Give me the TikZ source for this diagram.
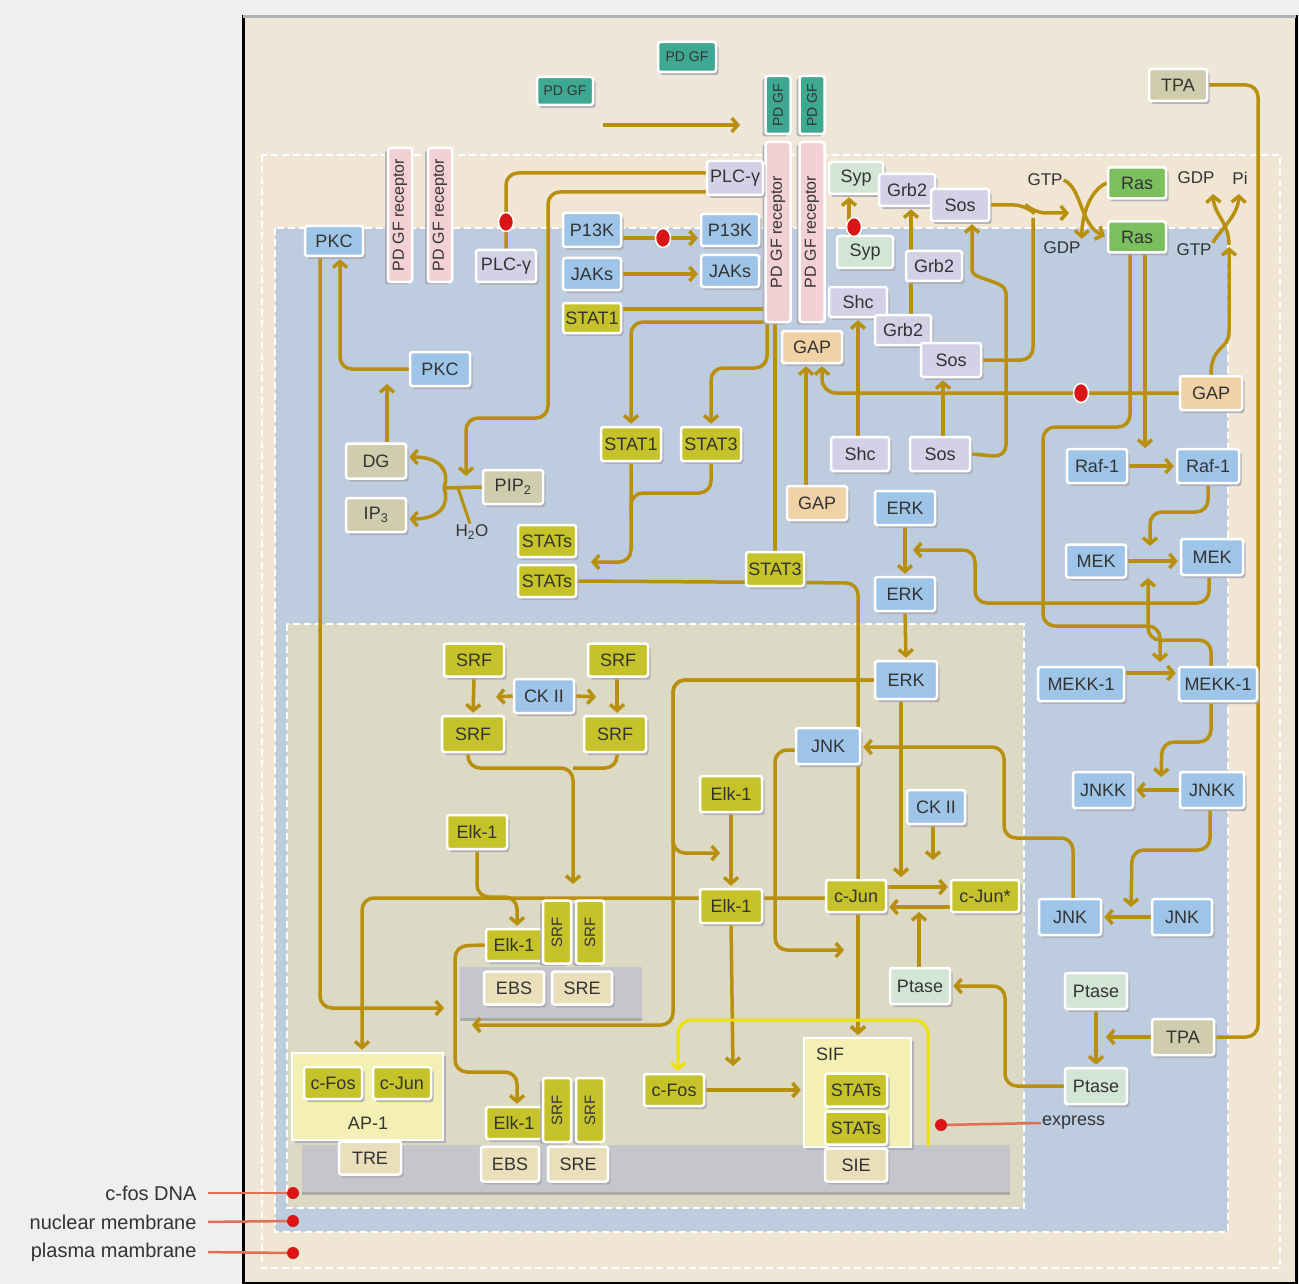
\documentclass[tikz,border=0pt]{standalone}
\usepackage{fontspec}
\setmainfont{Liberation Sans}
\usetikzlibrary{arrows.meta,shadows,shapes.geometric}
\definecolor{pagebg}{HTML}{EFEFEF}
\definecolor{framebg}{HTML}{EDE6D9}
\definecolor{pmbg}{HTML}{F1E5D3}
\definecolor{cytbg}{HTML}{BECCE0}
\definecolor{nucbg}{HTML}{DCD9C5}
\definecolor{cgold}{HTML}{B8900E}
\definecolor{cyellow}{HTML}{EDE200}
\definecolor{txt}{HTML}{333333}
\definecolor{shd}{HTML}{A9A9B2}
\definecolor{cblue}{HTML}{9EC5E8}
\definecolor{clav}{HTML}{D3D1E6}
\definecolor{cyel}{HTML}{C6C32A}
\definecolor{cpeach}{HTML}{F1D1A6}
\definecolor{cpale}{HTML}{D3E6D6}
\definecolor{cras}{HTML}{7CBF5E}
\definecolor{cteal}{HTML}{3FA893}
\definecolor{colive}{HTML}{CFCDAD}
\definecolor{ccream}{HTML}{E9DFBA}
\definecolor{cpink}{HTML}{F3D0D3}
\definecolor{cbar}{HTML}{C5C5CC}
\definecolor{cbox}{HTML}{F4EFB2}
\definecolor{cred}{HTML}{D91515}
\definecolor{cline}{HTML}{E07052}
\newcommand\lbl{\fontsize{18}{20}\selectfont}
\newcommand\smlbl{\fontsize{16}{18}\selectfont}
\newcommand\tnlbl{\fontsize{14}{16}\selectfont}
\newcommand\midlbl{\fontsize{20}{22}\selectfont}
\pgfdeclarelayer{bgl}
\pgfdeclarelayer{contl}
\pgfdeclarelayer{conl}
\pgfsetlayers{bgl,contl,conl,main}
\tikzset{
  bx0/.style={rectangle, draw=white, line width=2.5pt, rounded corners=2.5pt, inner sep=0pt, text=txt, font=\lbl},
  bx/.style={bx0, drop shadow={shadow xshift=2.5pt, shadow yshift=-3pt, fill=shd, opacity=.85}},
  rbx/.style={bx0, rotate=90, font=\smlbl, drop shadow={shadow xshift=-3pt, shadow yshift=-2.5pt, fill=shd, opacity=.85}},
  sz/.style 2 args={minimum width=#1pt, minimum height=#2pt},
  kb/.style={bx, fill=cblue},
  kl/.style={bx, fill=clav},
  ky/.style={bx, fill=cyel},
  kp/.style={bx, fill=cpeach},
  kg/.style={bx, fill=cpale},
  kr/.style={bx, fill=cras},
  ko/.style={bx, fill=colive},
  kc/.style={bx, fill=ccream},
  plain/.style={font=\lbl, text=txt, inner sep=1pt},
  bar/.style={rectangle, fill=cbar, inner sep=0pt, drop shadow={shadow xshift=0pt, shadow yshift=-3pt, fill=cbar!70!black, opacity=.6}},
  cont/.style={rectangle, fill=cbox, draw=white, line width=2.5pt, inner sep=0pt, drop shadow={shadow xshift=2.5pt, shadow yshift=-3pt, fill=shd, opacity=.85}},
  dsh/.style={draw=white, line width=2pt, dash pattern=on 7pt off 4pt},
  con/.style={draw=cgold, line width=3.5pt, rounded corners=12pt},
  arr/.style={con, -{Straight Barb[length=6pt,width=14pt]}, shorten >=2pt},
  yarr/.style={draw=cyellow, line width=3pt, rounded corners=14pt, -{Straight Barb[length=6pt,width=14pt]}, shorten >=2pt},
  rdot/.style={ellipse, fill=cred, draw=white, line width=1.5pt, minimum width=15pt, minimum height=19pt, inner sep=0pt},
  sdot/.style={circle, fill=cred, minimum size=12pt, inner sep=0pt},
  redln/.style={draw=cline, line width=2.5pt}
}
\begin{document}
\begin{tikzpicture}[x=1pt,y=-1pt]
\useasboundingbox (0,0) rectangle (1299,1284);
\begin{pgfonlayer}{bgl}
\fill[pagebg] (0,0) rectangle (1299,1284);
\draw[line width=3pt, draw=black, fill=framebg] (243,17) rectangle (1296,1283);
\draw[line width=3pt, draw=gray!60] (243,17) -- (1296,17);
\draw[dsh, fill=pmbg] (262,155) rectangle (1280,1268);
\draw[dsh, fill=cytbg] (275,228) rectangle (1228,1232);
\draw[dsh, fill=nucbg] (287,624) rectangle (1024,1208);
\end{pgfonlayer}

\begin{pgfonlayer}{contl}
\node[bar, sz={708}{47}] (dna) at (656,1168.5) {};
\node[bar, sz={182}{51}] (c1bar) at (551,992.5) {};
\node[cont, sz={151}{87}] (ap1) at (367.5,1096.5) {};
\node[cont, sz={107}{109}] (sif) at (857.5,1092.5) {};
\end{pgfonlayer}

% ---------- nodes ----------
\node[bx, fill=cteal, font=\tnlbl, sz={58}{30}] (pdgf1) at (687,57) {PD GF};
\node[bx, fill=cteal, font=\tnlbl, sz={56}{28}] (pdgf2) at (565,91) {PD GF};
\node[rbx, fill=cteal, font=\tnlbl, sz={58}{25}] (recT1) at (778,105) {PD GF};
\node[rbx, fill=cteal, font=\tnlbl, sz={58}{25}] (recT2) at (812,105) {PD GF};
\node[rbx, fill=cpink, sz={180}{25}] (recP1) at (778,232) {PD GF receptor};
\node[rbx, fill=cpink, sz={180}{25}] (recP2) at (812,232) {PD GF receptor};
\node[rbx, fill=cpink, sz={134}{24}] (lrec1) at (400,215) {PD GF receptor};
\node[rbx, fill=cpink, sz={134}{24}] (lrec2) at (440,215) {PD GF receptor};
\node[ko, sz={58}{32}] (tpa1) at (1178,85) {TPA};

\node[kb, sz={58}{30}] (pkc1) at (334,241) {PKC};
\node[kl, sz={60}{32}] (plc1) at (506,266) {PLC-γ};
\node[kl, sz={56}{34}] (plc2) at (735,178) {PLC-γ};
\node[kb, sz={58}{34}] (pi1) at (592,230) {P13K};
\node[kb, sz={58}{32}] (pi2) at (730,230) {P13K};
\node[kb, sz={58}{32}] (jak1) at (592,274) {JAKs};
\node[kb, sz={58}{32}] (jak2) at (730,271) {JAKs};
\node[ky, sz={58}{30}] (st1a) at (592,318) {STAT1};
\node[kg, sz={54}{32}] (syp1) at (856,178) {Syp};
\node[kl, sz={56}{32}] (grb2a) at (907,190) {Grb2};
\node[kl, sz={58}{32}] (sos1) at (960,205) {Sos};
\node[kg, sz={56}{32}] (syp2) at (865,252) {Syp};
\node[kl, sz={56}{30}] (grb2b) at (934,266) {Grb2};
\node[kl, sz={58}{30}] (shc1) at (858,302) {Shc};
\node[kl, sz={56}{30}] (grb2c) at (903,330) {Grb2};
\node[kl, sz={60}{34}] (sos2) at (951,360) {Sos};
\node[kp, sz={60}{32}] (gap1) at (812,347) {GAP};
\node[plain, font=\fontsize{17}{19}\selectfont] (gtp1) at (1045,180) {GTP};
\node[plain, font=\fontsize{17}{19}\selectfont] (gdp1) at (1062,248) {GDP};
\node[kr, sz={58}{31}] (ras1) at (1137,183) {Ras};
\node[kr, sz={58}{31}] (ras2) at (1137,237) {Ras};
\node[plain, font=\fontsize{17}{19}\selectfont] (gdp2) at (1196,178) {GDP};
\node[plain, font=\fontsize{17}{19}\selectfont] (pi) at (1240,178) {Pi};
\node[plain, font=\fontsize{17}{19}\selectfont] (gtp2) at (1194,250) {GTP};
\node[kp, sz={62}{34}] (gap2) at (1211,393) {GAP};

\node[kb, sz={60}{34}] (pkc2) at (440,369) {PKC};
\node[ko, sz={60}{35}] (dg) at (376,461) {DG};
\node[ko, sz={60}{34}] (ip3) at (376,515) {IP\textsubscript{3}};
\node[ko, sz={60}{34}] (pip2) at (513,487) {PIP\textsubscript{2}};
\node[plain, font=\fontsize{17}{19}\selectfont] (h2o) at (472,532) {H\textsubscript{2}O};
\node[ky, sz={60}{34}] (st1b) at (631,444) {STAT1};
\node[ky, sz={60}{34}] (st3a) at (711,444) {STAT3};
\node[ky, sz={58}{32}] (stsA) at (547,541) {STATs};
\node[ky, sz={58}{32}] (stsB) at (547,581) {STATs};
\node[kl, sz={58}{34}] (shc2) at (860,454) {Shc};
\node[kl, sz={60}{34}] (sos3) at (940,454) {Sos};
\node[kp, sz={60}{34}] (gap3) at (817,503) {GAP};
\node[ky, sz={58}{34}] (st3b) at (775,569) {STAT3};
\node[kb, sz={60}{34}] (erk1) at (905,508) {ERK};
\node[kb, sz={60}{34}] (erk2) at (905,594) {ERK};
\node[kb, sz={60}{34}] (raf1a) at (1097,466) {Raf-1};
\node[kb, sz={62}{34}] (raf1b) at (1208,466) {Raf-1};
\node[kb, sz={60}{33}] (meka) at (1096,561) {MEK};
\node[kb, sz={62}{36}] (mekb) at (1212,557) {MEK};

\node[ky, sz={60}{33}] (srf1) at (474,660) {SRF};
\node[ky, sz={60}{33}] (srf2) at (618,660) {SRF};
\node[kb, sz={60}{34}] (ck1) at (544,696) {CK II};
\node[ky, sz={62}{36}] (srf3) at (473,734) {SRF};
\node[ky, sz={62}{36}] (srf4) at (615,734) {SRF};
\node[ky, sz={60}{34}] (elk1a) at (477,832) {Elk-1};
\node[kb, sz={62}{38}] (erk3) at (906,680) {ERK};
\node[kb, sz={86}{34}] (mekk1a) at (1081,684) {MEKK-1};
\node[kb, sz={78}{34}] (mekk1b) at (1218,684) {MEKK-1};
\node[kb, sz={64}{36}] (jnk1) at (828,746) {JNK};
\node[ky, sz={62}{36}] (elk1b) at (731,794) {Elk-1};
\node[kb, sz={58}{34}] (ck2) at (936,807) {CK II};
\node[kb, sz={60}{36}] (jnkk1) at (1103,790) {JNKK};
\node[kb, sz={64}{36}] (jnkk2) at (1212,790) {JNKK};
\node[ky, sz={60}{32}] (cjun1) at (856,896) {c-Jun};
\node[ky, sz={68}{32}] (cjuns) at (985,896) {c-Jun*};
\node[ky, sz={62}{34}] (elk1c) at (731,906) {Elk-1};
\node[kb, sz={62}{36}] (jnk2) at (1070,917) {JNK};
\node[kb, sz={60}{36}] (jnk3) at (1182,917) {JNK};
\node[kg, sz={60}{36}] (ptase1) at (920,986) {Ptase};
\node[kg, sz={62}{36}] (ptase2) at (1096,991) {Ptase};
\node[ko, sz={62}{36}] (tpa2) at (1183,1037) {TPA};
\node[kg, sz={62}{36}] (ptase3) at (1096,1086) {Ptase};
\node[plain, anchor=west] (express) at (1041,1123) {express};
\node[sdot] (exdot) at (941,1125) {};

\node[plain] (siftxt) at (830,1054) {SIF};
\node[ky, sz={62}{33}] (sts1) at (856,1090) {STATs};
\node[ky, sz={62}{33}] (sts2) at (856,1128) {STATs};
\node[kc, sz={62}{33}] (sie) at (856,1165) {SIE};

\node[ky, sz={56}{32}] (elk1d) at (514,945) {Elk-1};
\node[rbx, fill=cyel, font=\fontsize{15}{17}\selectfont, sz={63}{28}] (srfv1) at (557,932) {SRF};
\node[rbx, fill=cyel, font=\fontsize{15}{17}\selectfont, sz={63}{28}] (srfv2) at (590,932) {SRF};
\node[kc, sz={60}{33}] (ebs1) at (514,988) {EBS};
\node[kc, sz={60}{33}] (sre1) at (582,988) {SRE};

\node[ky, sz={58}{32}] (cfos1) at (333,1083) {c-Fos};
\node[ky, sz={58}{32}] (cjun2) at (402,1083) {c-Jun};
\node[plain] (ap1txt) at (368,1123) {AP-1};
\node[kc, sz={62}{33}] (tre) at (370,1158) {TRE};
\node[ky, sz={56}{32}] (elk1e) at (514,1123) {Elk-1};
\node[rbx, fill=cyel, font=\fontsize{15}{17}\selectfont, sz={64}{28}] (srfv3) at (557,1110) {SRF};
\node[rbx, fill=cyel, font=\fontsize{15}{17}\selectfont, sz={64}{28}] (srfv4) at (590,1110) {SRF};
\node[kc, sz={58}{35}] (ebs2) at (510,1164) {EBS};
\node[kc, sz={60}{35}] (sre2) at (578,1164) {SRE};
\node[ky, sz={60}{32}] (cfos2) at (674,1090) {c-Fos};

% red dots
\node[rdot] (rd1) at (506,222) {};
\node[rdot] (rd2) at (663,238) {};
\node[rdot] (rd3) at (854,227) {};
\node[rdot] (rd4) at (1081,393) {};

% left labels
\node[anchor=east, font=\midlbl, text=txt] (lab1) at (200,1193) {c-fos DNA};
\node[anchor=east, font=\midlbl, text=txt] (lab2) at (200,1222) {nuclear membrane};
\node[anchor=east, font=\midlbl, text=txt] (lab3) at (200,1252) {plasma mambrane};
\node[sdot] (ld1) at (293,1193) {};
\node[sdot] (ld2) at (293,1221) {};
\node[sdot] (ld3) at (293,1253) {};

% free ends
\coordinate (gfs) at (603,125);
\coordinate (gfe) at (742,125);
\coordinate (pipx) at (466,478);
\coordinate (stsin) at (589,562);
\coordinate (pkcend) at (446,1008);
\coordinate (dgend) at (387,382);
\coordinate (pjx) at (444,488);
\coordinate (rasin) at (1071,213);
\coordinate (gapup) at (1229,245);
\coordinate (gdpin) at (1213,192);
\coordinate (piin) at (1239,192);
\coordinate (mekkin) at (1160,664);
\coordinate (rafin) at (1145,450);
\coordinate (mekin) at (1150,548);
\coordinate (mekin2) at (1148,576);
\coordinate (erkin) at (911,550);
\coordinate (jnkkin) at (1161,779);
\coordinate (jnkin) at (1131,909);
\coordinate (jnkout) at (846,950);
\coordinate (elkin) at (722,853);
\coordinate (c1in) at (470,1025);
\coordinate (cjin) at (901,879);
\coordinate (ck2out) at (933,862);
\coordinate (ptin) at (919,910);
\coordinate (tpain) at (1104,1037);
\coordinate (elkout) at (733,1068);
\coordinate (srfout) at (573,886);
\coordinate (ckl) at (494,697);
\coordinate (ckr) at (598,697);
\coordinate (yst) at (928,1146);

% ---------- connectors ----------
\begin{pgfonlayer}{conl}
\draw[arr] (gfs) -- (gfe);
\draw[con] (plc2.west |- 0,173) -- (506,173) -- (rd1.center) -- (plc1.north);
\draw[arr] (plc2.west |- 0,192) -- (548,192) -- (548,418) -- (466,418) -- (pipx);
\draw[arr] (pi1.east |- 0,238) -- (pi2.west |- 0,238);
\draw[arr] (jak1.east) -- (jak2.west |- jak1.east);
\draw[con] (st1a.east |- 0,309) -- (recP1.north |- 0,309);
\draw[arr] (recP1.north |- 0,322) -- (631,322) -- (st1b.north);
\draw[arr] (recP1.west -| 767,0) -- (767,368) -- (711,368) -- (st3a.north);
\draw[con] (recP1.west -| 775,0) -- (st3b.north -| 775,0);
\draw[arr] (st1b.south) -- (631,562) -- (stsin);
\draw[con] (st3a.south) -- (711,493) -- (631,493) -- (631,515);
\draw[arr] (stsB.east) -- (858,583) -- (sif.north -| 858,0);
\draw[arr] (pkc1.south -| 320,0) -- (320,1008) -- (pkcend);
\draw[arr] (pkc2.west) -- (340,369) -- (pkc1.south -| 340,0);
\draw[arr] (dg.north -| 387,0) -- (dgend);
\draw[con] (pip2.west) -- (pjx);
\draw[arr] (pjx) .. controls (450,470) and (440,457) .. (dg.east |- 0,457);
\draw[arr] (pjx) .. controls (450,505) and (440,519) .. (ip3.east |- 0,519);
\draw[con, line width=3pt] ([xshift=14pt]pjx) -- ([xshift=-2pt]h2o.north);
\draw[arr] (syp2.north -| 849,0) -- (syp1.south -| 849,0);
\draw[arr] (grb2b.north -| 911,0) -- (grb2a.south -| 911,0);
\draw[con] (grb2c.north -| 911,0) -- (grb2b.south -| 911,0);
\draw[arr] (shc2.north -| 858,0) -- (shc1.south -| 858,0);
\draw[arr] (sos3.north -| 943,0) -- (sos2.south -| 943,0);
\draw[arr] (sos3.east) -- (1006,457) -- (1006,305) .. controls (1006,280) and (972,280) .. (972,258) -- (sos1.south -| 972,0);
\draw[arr] (sos1.east) -- (1026,205) -- (1034,213) -- (rasin);
\draw[con] (sos2.east) -- (1033,360) -- (1033,218);
\draw[arr] (gap3.north -| 806,0) -- (gap1.south -| 806,0);
\draw[arr, rounded corners=14pt] (gap2.west) -- (822,393) -- (gap1.south -| 822,0);
\draw[arr] (gtp1.east) .. controls (1082,188) and (1080,225) .. (ras2.west);
\draw[arr] (ras1.west) .. controls (1090,190) and (1082,215) .. (gdp1.north east);
\draw[arr] (gap2.north) .. controls (1211,345) and (1229,350) .. (1229,320) -- (gapup);
\draw[arr] (gapup) .. controls (1229,222) and (1214,215) .. (gdpin);
\draw[arr] (gtp2.north east) .. controls (1222,228) and (1238,215) .. (piin);
\draw[arr] (ras2.south -| 1130,0) -- (1130,427) -- (1043,427) -- (1043,626) -- (1160,626) -- (mekkin);
\draw[arr] (ras2.south -| 1145,0) -- (rafin);
\draw[arr] (raf1a.east) -- (raf1b.west);
\draw[arr] (raf1b.south) -- (1208,512) -- (1150,512) -- (mekin);
\draw[arr] (meka.east) -- (mekb.west |- meka.east);
\draw[arr] (mekb.south -| 1209,0) -- (1209,603) -- (975,603) -- (975,550) -- (erkin);
\draw[arr] (mekk1b.north -| 1211,0) -- (1211,640) -- (1148,640) -- (mekin2);
\draw[arr] (mekk1a.east |- 0,673) -- (mekk1b.west |- 0,673);
\draw[arr] (mekk1b.south -| 1211,0) -- (1211,742) -- (1162,742) -- (jnkkin);
\draw[arr] (jnkk2.west) -- (jnkk1.east);
\draw[arr] (jnkk2.south -| 1210,0) -- (1210,850) -- (1132,850) -- (jnkin);
\draw[arr] (jnk3.west) -- (jnk2.east);
\draw[arr] (jnk2.north -| 1073,0) -- (1073,838) -- (1004,838) -- (1004,747) -- (jnk1.east |- 0,747);
\draw[arr] (jnk1.west |- 0,750) -- (775,750) -- (775,950) -- (jnkout);
\draw[arr] (erk1.south) -- (erk2.north);
\draw[arr] (erk2.south) -- (erk3.north);
\draw[arr] (erk3.west) -- (673,680) -- (673,853) -- (elkin);
\draw[arr] (erk3.west) -- (673,680) -- (673,1025) -- (c1in);
\draw[arr] (erk3.south -| 901,0) -- (cjin);
\draw[arr] (ck2.south -| 933,0) -- (ck2out);
\draw[arr] (cjun1.east |- 0,887) -- (cjuns.west |- 0,887);
\draw[arr] (cjuns.west |- 0,907) -- (cjun1.east |- 0,907);
\draw[arr] (ptase1.north -| 919,0) -- (ptin);
\draw[arr] (ptase3.west) -- (1005,1086) -- (1005,986) -- (ptase1.east);
\draw[arr] (ptase2.south) -- (ptase3.north);
\draw[arr] (tpa2.west) -- (tpain);
\draw[con] (tpa1.east) -- (1258,85) -- (1258,1037) -- (tpa2.east);
\draw[arr] (cjun1.south -| 858,0) -- (sif.north -| 858,0);
\draw[arr] (elk1b.south) -- (elk1c.north);
\draw[arr] (elk1c.south) -- (elkout);
\draw[arr] (cfos2.east) -- (sif.west |- cfos2.east);
\draw[arr] (cjun1.west |- 0,898) -- (362,898) -- (ap1.north -| 362,0);
\draw[arr] (elk1a.south) -- (477,897) -- (517,897) -- (elk1d.north -| 517,0);
\draw[arr] (srf3.south -| 468,0) -- (468,768) -- (573,768) -- (srfout);
\draw[con] (srf4.south -| 617,0) -- (617,768) -- (573,768);
\draw[arr] (srf1.south) -- (srf3.north);
\draw[arr] (srf2.south -| 617,0) -- (srf4.north -| 617,0);
\draw[arr] (ck1.west) -- (ckl);
\draw[arr] (ck1.east) -- (ckr);
\draw[arr] (elk1d.west) -- (455,946) -- (455,1072) -- (517,1072) -- (elk1e.north -| 517,0);
\draw[yarr] (yst) -- (928,1020) -- (678,1020) -- (cfos2.north -| 678,0);
\draw[redln] (exdot) -- (express.west);
\draw[redln, shorten <=8pt] (lab1.east) -- (ld1);
\draw[redln, shorten <=8pt] (lab2.east) -- (ld2);
\draw[redln, shorten <=8pt] (lab3.east) -- (ld3);
\end{pgfonlayer}
\end{tikzpicture}
\end{document}
